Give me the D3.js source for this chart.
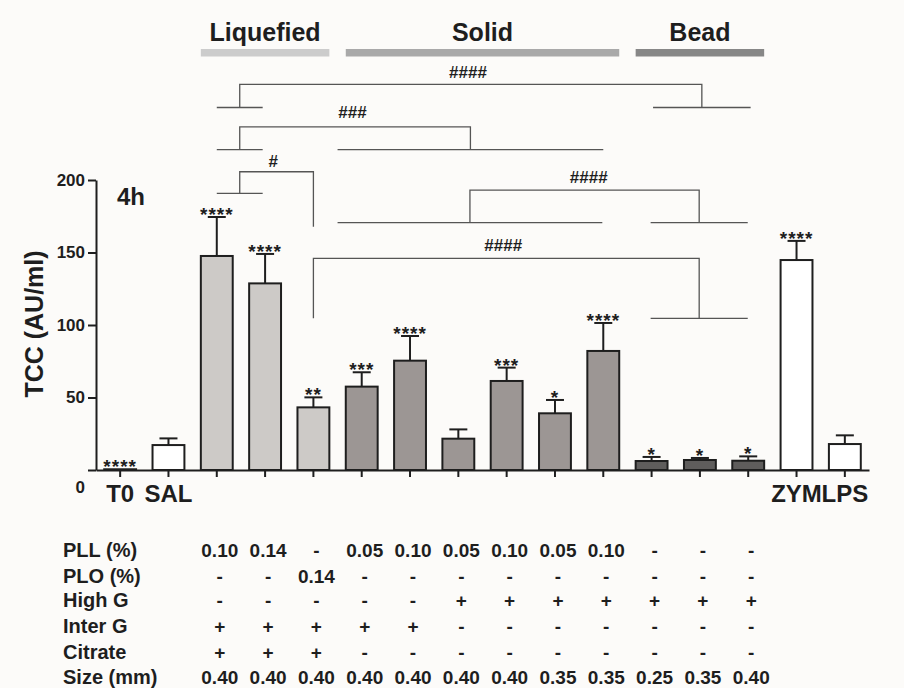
<!DOCTYPE html>
<html>
<head>
<meta charset="utf-8">
<script src="https://d3js.org/d3.v7.min.js"></script>
<style>
  body { margin: 0; background: #fcfbf9; }
  text { font-family: "Liberation Sans", Arial, sans-serif; font-weight: bold; fill: #1e1e1e; }
</style>
</head>
<body>
<svg id="chart"></svg>
<script>
// TCC at 4h, bars with SEM, significance stars and brackets

const FRAME_WIDTH = 904;
const FRAME_HEIGHT = 688;

// data
const categories = ["T0", "SAL", "L1", "L2", "L3", "S1", "S2", "S3", "S4", "S5", "S6", "B1", "B2", "B3", "ZYM", "LPS"];
const axisLabels = {T0: "T0", SAL: "SAL", ZYM: "ZYM", LPS: "LPS"};
const kinds = ["control", "control", "liquefied", "liquefied", "liquefied",
               "solid", "solid", "solid", "solid", "solid", "solid",
               "bead", "bead", "bead", "control", "control"];
const means = [0.5, 17.2, 147.6, 128.7, 43.2, 57.5, 75.4, 21.6, 61.4, 39.1, 82.1, 6.2, 6.9, 6.4, 144.8, 17.9];
const errors = [0, 4.6, 26.9, 20.3, 6.9, 9.9, 17.0, 6.4, 9.2, 9.2, 19.3, 2.8, 1.4, 3.0, 13.2, 6.0];
const stars = ["****", "", "****", "****", "**", "***", "****", "", "***", "*", "****", "*", "*", "*", "****", ""];
const yTicks = [0, 50, 100, 150, 200];

const groupNames = ["Liquefied", "Solid", "Bead"];
const groupFirst = [2, 5, 11];
const groupLast = [4, 10, 13];

// comparison brackets: spans in bar-index units, heights in y units
const brackets = [
  {label: "####", top: 266, left: [2, 2.95], leftEnd: 250, right: [11.03, 13.05], rightEnd: 250, labelAt: 7.2, labelY: 270.3},
  {label: "###", top: 236.7, left: [2, 2.95], leftEnd: 221, right: [4.5, 10], rightEnd: 221, labelAt: 4.81, labelY: 242.8},
  {label: "#", top: 205.7, left: [2, 2.95], leftEnd: 190.8, right: [4, 4], rightEnd: 167.8, labelAt: 3.17, labelY: 209},
  {label: "####", top: 193, left: [4.5, 9.98], leftEnd: 170.6, right: [10.98, 12.99], rightEnd: 170.6, labelAt: 9.7, labelY: 198},
  {label: "####", top: 146, left: [4, 4], leftEnd: 104.6, right: [10.98, 12.99], rightEnd: 104.6, labelAt: 7.93, labelY: 151}
];

// composition table (columns = bars L1..B3)
const rowNames = ["PLL (%)", "PLO (%)", "High G", "Inter G", "Citrate", "Size (mm)"];
const pll = ["0.10", "0.14", "-", "0.05", "0.10", "0.05", "0.10", "0.05", "0.10", "-", "-", "-"];
const plo = ["-", "-", "0.14", "-", "-", "-", "-", "-", "-", "-", "-", "-"];
const highG = ["-", "-", "-", "-", "-", "+", "+", "+", "+", "+", "+", "+"];
const interG = ["+", "+", "+", "+", "+", "-", "-", "-", "-", "-", "-", "-"];
const citrate = ["+", "+", "+", "-", "-", "-", "-", "-", "-", "-", "-", "-"];
const sizes = ["0.40", "0.40", "0.40", "0.40", "0.40", "0.40", "0.40", "0.35", "0.35", "0.25", "0.35", "0.40"];
const tableRows = [pll, plo, highG, interG, citrate, sizes];

const FILL = {control: "#ffffff", liquefied: "#cdcac7", solid: "#9c9694", bead: "#5f5d5c"};
const HEADER_FILL = ["#cccccc", "#a9a9a9", "#878787"];

const svg = d3.select("#chart")
  .attr("width", FRAME_WIDTH)
  .attr("height", FRAME_HEIGHT);

svg.append("rect").attr("width", FRAME_WIDTH).attr("height", FRAME_HEIGHT).attr("fill", "#fcfbf9");

const xScale = d3.scaleBand()
  .domain(categories)
  .range([96, 869])
  .paddingInner(0.34)
  .paddingOuter(0.17);

const yScale = d3.scaleLinear()
  .domain([0, 200])
  .range([470, 180]);

const bw = xScale.bandwidth();
const center = i => xScale(categories[i]) + bw / 2;
// fractional index -> x
const xAt = f => {
  const i = Math.min(Math.floor(f), categories.length - 2);
  return center(i) + (f - i) * (center(i + 1) - center(i));
};

// bars
svg.selectAll(".bar")
  .data(categories)
  .enter()
  .append("rect")
    .attr("class", "bar")
    .attr("x", d => xScale(d))
    .attr("y", (d, i) => yScale(means[i]))
    .attr("width", bw)
    .attr("height", (d, i) => yScale(0) - yScale(means[i]))
    .attr("fill", (d, i) => FILL[kinds[i]])
    .attr("stroke", "#1e1e1e")
    .attr("stroke-width", 2);

// error bars
const errG = svg.append("g").attr("stroke", "#1e1e1e").attr("stroke-width", 2);
categories.forEach((c, i) => {
  if (errors[i] <= 0) return;
  const cx = center(i);
  errG.append("line").attr("x1", cx).attr("x2", cx)
    .attr("y1", yScale(means[i])).attr("y2", yScale(means[i] + errors[i]));
  errG.append("line").attr("x1", cx - 9).attr("x2", cx + 9)
    .attr("y1", yScale(means[i] + errors[i])).attr("y2", yScale(means[i] + errors[i]));
});

// stars
svg.selectAll(".star")
  .data(categories)
  .enter()
  .append("text")
    .attr("class", "star")
    .attr("x", (d, i) => center(i))
    .attr("y", (d, i) => yScale(means[i] + errors[i]) + 4)
    .attr("text-anchor", "middle")
    .attr("font-size", "19px")
    .attr("letter-spacing", "1px")
    .text((d, i) => stars[i]);

// x axis
const xAxis = svg.append("g")
  .attr("transform", "translate(0," + yScale(0) + ")")
  .call(d3.axisBottom(xScale).tickSize(7).tickSizeOuter(0).tickPadding(8)
    .tickFormat(d => axisLabels[d] || ""));
xAxis.select(".domain").attr("stroke", "#1e1e1e").attr("stroke-width", 2);
xAxis.selectAll(".tick line").attr("stroke", "#1e1e1e").attr("stroke-width", 2);
xAxis.selectAll("text").attr("font-size", "24px").attr("fill", "#1e1e1e")
  .style("font-family", "'Liberation Sans', Arial, sans-serif");

// y axis
const yAxis = svg.append("g")
  .attr("transform", "translate(96,0)")
  .call(d3.axisLeft(yScale).tickValues(yTicks).tickSize(8).tickSizeOuter(0).tickPadding(3));
yAxis.select(".domain").attr("stroke", "#1e1e1e").attr("stroke-width", 2);
yAxis.selectAll(".tick line").attr("stroke", "#1e1e1e").attr("stroke-width", 2);
yAxis.selectAll("text").attr("font-size", "17px").attr("fill", "#1e1e1e")
  .style("font-family", "'Liberation Sans', Arial, sans-serif");
yAxis.selectAll(".tick").filter(d => d === 0).select("text").attr("dy", "1.3em");

// y label and time label
svg.append("text")
  .attr("transform", "translate(43,324) rotate(-90)")
  .attr("text-anchor", "middle")
  .attr("font-size", "25px")
  .text("TCC (AU/ml)");

svg.append("text")
  .attr("x", 117).attr("y", 205)
  .attr("font-size", "24px")
  .text("4h");

// group headers
groupNames.forEach((g, k) => {
  const x0 = xScale(categories[groupFirst[k]]);
  const x1 = xScale(categories[groupLast[k]]) + bw;
  svg.append("rect")
    .attr("x", x0).attr("y", 49)
    .attr("width", x1 - x0).attr("height", 7.5)
    .attr("fill", HEADER_FILL[k]);
  svg.append("text")
    .attr("x", (x0 + x1) / 2).attr("y", 41)
    .attr("text-anchor", "middle")
    .attr("font-size", "25px")
    .text(g);
});

// brackets
const brG = svg.append("g").attr("stroke", "#555555").attr("stroke-width", 1.3).attr("fill", "none");
brackets.forEach(b => {
  const lx = xAt((b.left[0] + b.left[1]) / 2);
  const rx = xAt((b.right[0] + b.right[1]) / 2);
  brG.append("path")
    .attr("d", "M" + lx + "," + yScale(b.leftEnd) + "V" + yScale(b.top) + "H" + rx + "V" + yScale(b.rightEnd));
  [[b.left, b.leftEnd], [b.right, b.rightEnd]].forEach(([span, end]) => {
    if (span[1] > span[0]) {
      brG.append("line")
        .attr("x1", xAt(span[0])).attr("x2", xAt(span[1]))
        .attr("y1", yScale(end)).attr("y2", yScale(end));
    }
  });
  svg.append("text")
    .attr("x", xAt(b.labelAt)).attr("y", yScale(b.labelY))
    .attr("text-anchor", "middle")
    .attr("font-size", "17px")
    .text(b.label);
});

// composition table
const rowY = [557, 583, 607, 633, 659, 684];
rowNames.forEach((name, r) => {
  svg.append("text")
    .attr("x", 63).attr("y", rowY[r])
    .attr("font-size", "20px")
    .text(name);
  tableRows[r].forEach((v, c) => {
    svg.append("text")
      .attr("x", center(c + 2) + 3).attr("y", rowY[r])
      .attr("text-anchor", "middle")
      .attr("font-size", "19px")
      .text(v);
  });
});
</script>
</body>
</html>
